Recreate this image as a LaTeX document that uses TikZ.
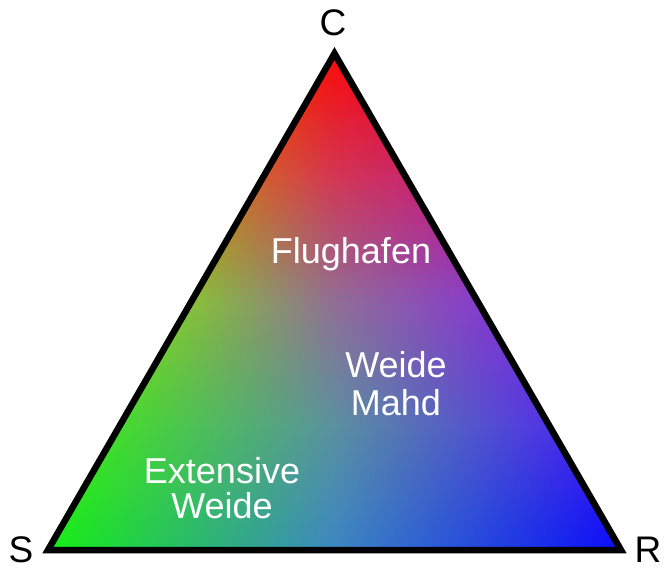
\documentclass[tikz,border=0pt]{standalone}
\usepackage{fontspec}
\setmainfont{Liberation Sans}
\newcommand\mypwl[6]{\pgfmathtruncatemacro\pwlres{(#1<0.25) ? (#2+(#3-#2)*4*#1) : ((#1<0.5) ? (#3+(#4-#3)*4*(#1-0.25)) : ((#1<0.75) ? (#4+(#5-#4)*4*(#1-0.5)) : (#5+(#6-#5)*4*(#1-0.75))))}}
\newcommand\mkrowcol[5]{% #1 name, #2 t, #3 R keys, #4 G keys, #5 B keys
  \mypwl{#2}#3\let\vR\pwlres
  \mypwl{#2}#4\let\vG\pwlres
  \mypwl{#2}#5\let\vB\pwlres
  \edef\mytmp{\noexpand\definecolor{#1}{RGB}{\vR,\vG,\vB}}\mytmp}
\begin{document}
\begin{tikzpicture}[x=1pt,y=-1pt,
  lbl/.style={font=\fontsize{37}{40}\selectfont, text=black, inner sep=0pt},
  inner/.style={text=white, align=center, inner sep=0pt},
  border/.style={line width=6.5pt, line join=miter, draw=black}]
\useasboundingbox (0,0) rectangle (665,570);
\coordinate (S) at (48,550);
\coordinate (R) at (621,550);
\coordinate (C) at (334.5,53.5);
\begin{scope}
  \clip (S) -- (C) -- (R) -- cycle;
  \foreach \k in {0,...,69}{
    \pgfmathsetmacro\tm{(\k+0.5)/70}
    \pgfmathsetmacro\tz{\k/70}
    \pgfmathsetmacro\ybot{550-\tz*496.5+0.2}
    \pgfmathsetmacro\ytop{550-(\k+1)/70*496.5-0.8}
    \pgfmathsetmacro\xl{48+\tz*286.5-2}
    \pgfmathsetmacro\xr{621-\tz*286.5+2}
    \mkrowcol{cl}{\tm}{{20}{70}{135}{210}{250}}{{240}{220}{195}{95}{10}}{{20}{45}{55}{45}{10}}
    \mkrowcol{cm}{\tm}{{60}{90}{145}{210}{250}}{{135}{145}{110}{55}{10}}{{195}{160}{150}{85}{10}}
    \mkrowcol{cr}{\tm}{{10}{80}{135}{200}{250}}{{10}{50}{60}{40}{10}}{{250}{230}{205}{110}{10}}
    \shade[left color=cl, right color=cr, middle color=cm] (\xl,\ybot) rectangle (\xr,\ytop);
  }
\end{scope}
\draw[border] (S) -- (C) -- (R) -- cycle;
\node[lbl] (lC) at (333,23) {C};
\node[lbl] (lS) at (21,550) {S};
\node[lbl] (lR) at (648,550) {R};
\node[inner, font=\fontsize{36}{38}\selectfont, anchor=base] (flug) at (351,263) {Flughafen};
\node[inner, font=\fontsize{36}{38}\selectfont] (wm) at (396,383.5) {Weide\\Mahd};
\node[inner, font=\fontsize{36}{35}\selectfont] (ew) at (222,488) {Extensive\\Weide};
\end{tikzpicture}
\end{document}
